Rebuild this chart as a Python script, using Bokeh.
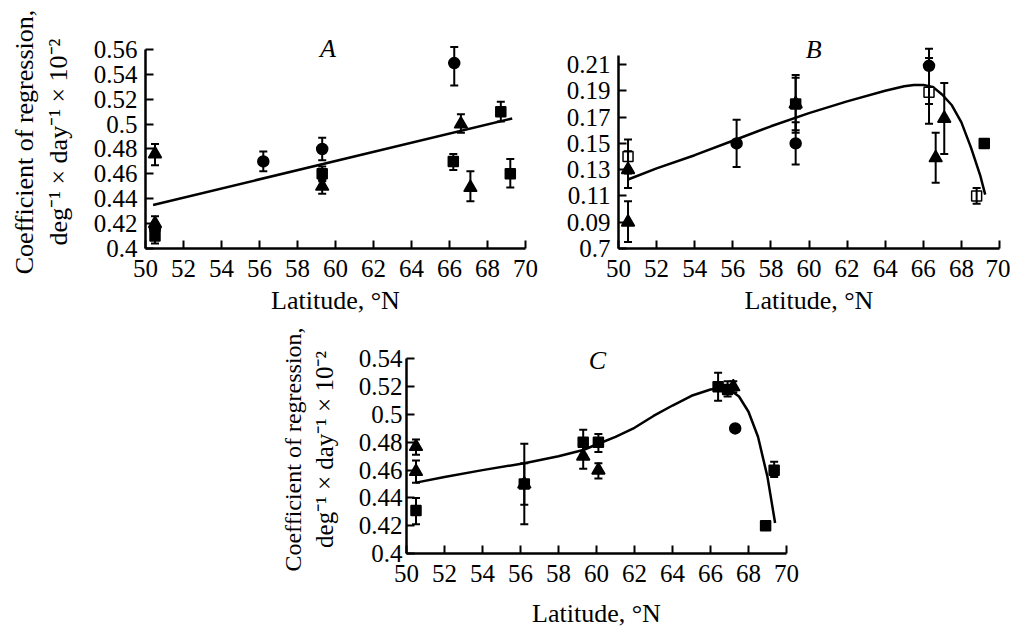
from bokeh.plotting import figure
from bokeh.models import Range1d, LinearAxis, FixedTicker, Whisker, TeeHead, ColumnDataSource, Label
from bokeh.layouts import column, row
from bokeh.embed import file_html
from bokeh.resources import INLINE

FONT = "Liberation Serif"

# ---------------- data ----------------
x_ticks = [50, 52, 54, 56, 58, 60, 62, 64, 66, 68, 70]

# Panel A
A_yticks = [0.40, 0.42, 0.44, 0.46, 0.48, 0.50, 0.52, 0.54, 0.56]
A_ylabels = ["0.4", "0.42", "0.44", "0.46", "0.48", "0.5", "0.52", "0.54", "0.56"]
A_circ_x = [50.5, 56.2, 59.3, 66.25]
A_circ_y = [0.416, 0.47, 0.48, 0.549]
A_circ_lo = [0.411, 0.462, 0.471, 0.531]
A_circ_hi = [0.421, 0.478, 0.489, 0.562]
A_sq_x = [50.5, 59.3, 66.2, 68.7, 69.2]
A_sq_y = [0.41, 0.46, 0.47, 0.51, 0.46]
A_sq_lo = [0.404, 0.454, 0.463, 0.502, 0.449]
A_sq_hi = [0.416, 0.466, 0.476, 0.518, 0.472]
A_tri_x = [50.5, 50.5, 59.3, 66.6, 67.1]
A_tri_y = [0.476, 0.42, 0.45, 0.50, 0.449]
A_tri_lo = [0.467, 0.413, 0.444, 0.493, 0.438]
A_tri_hi = [0.484, 0.426, 0.455, 0.508, 0.462]
A_line_x = [50.4, 69.3]
A_line_y = [0.435, 0.5045]

# Panel B
B_yticks = [0.07, 0.09, 0.11, 0.13, 0.15, 0.17, 0.19, 0.21]
B_ylabels = ["0.7", "0.09", "0.11", "0.13", "0.15", "0.17", "0.19", "0.21"]
B_circ_x = [56.2, 59.3, 66.3]
B_circ_y = [0.15, 0.15, 0.209]
B_circ_lo = [0.132, 0.134, 0.18]
B_circ_hi = [0.168, 0.166, 0.222]
B_sq_x = [59.3, 69.2]
B_sq_y = [0.18, 0.15]
B_sq_lo = [0.158, 0.15]
B_sq_hi = [0.202, 0.15]
B_osq_x = [50.5, 66.3, 68.8]
B_osq_y = [0.14, 0.189, 0.11]
B_osq_lo = [0.127, 0.165, 0.104]
B_osq_hi = [0.153, 0.215, 0.116]
B_tri_x = [50.5, 50.5, 59.3, 66.65, 67.1]
B_tri_y = [0.13, 0.09, 0.18, 0.139, 0.169]
B_tri_lo = [0.116, 0.075, 0.16, 0.12, 0.142]
B_tri_hi = [0.144, 0.106, 0.20, 0.158, 0.196]
B_curve_x = [50.5, 52, 54, 56, 58, 60, 62, 64, 65, 65.5, 66, 66.5, 67, 67.5, 68, 68.5, 69, 69.25]
B_curve_y = [0.1225, 0.131, 0.141, 0.152, 0.163, 0.173, 0.182, 0.19, 0.1935, 0.1945,
             0.1945, 0.193, 0.187, 0.179, 0.166, 0.147, 0.125, 0.111]

# Panel C
C_yticks = [0.40, 0.42, 0.44, 0.46, 0.48, 0.50, 0.52, 0.54]
C_ylabels = ["0.4", "0.42", "0.44", "0.46", "0.48", "0.5", "0.52", "0.54"]
C_sq_x = [50.5, 56.2, 59.3, 60.1, 66.4, 66.9, 68.9, 69.35]
C_sq_y = [0.431, 0.45, 0.48, 0.48, 0.52, 0.518, 0.42, 0.46]
C_sq_lo = [0.421, 0.421, 0.471, 0.473, 0.51, 0.513, 0.417, 0.455]
C_sq_hi = [0.44, 0.479, 0.489, 0.486, 0.53, 0.524, 0.423, 0.466]
C_tri_x = [50.5, 50.5, 56.2, 59.3, 60.1, 67.2]
C_tri_y = [0.477, 0.459, 0.45, 0.47, 0.46, 0.52]
C_tri_lo = [0.471, 0.451, 0.435, 0.461, 0.454, 0.516]
C_tri_hi = [0.482, 0.467, 0.465, 0.478, 0.465, 0.524]
C_circ_x = [67.3]
C_circ_y = [0.49]
C_circ_lo = [0.488]
C_circ_hi = [0.492]
C_curve_x = [50.5, 52, 54, 56.2, 58, 59.3, 60.1, 61, 62, 63, 64, 65, 66, 66.5, 67, 67.5,
             68, 68.5, 69, 69.4]
C_curve_y = [0.451, 0.455, 0.46, 0.465, 0.47, 0.4745, 0.479, 0.484, 0.4905, 0.499, 0.5065,
             0.5135, 0.518, 0.519, 0.518, 0.513, 0.502, 0.484, 0.455, 0.422]

TICK_FS = "25px"
TITLE_FS = "26px"


def make_fig(width, height, ylo, yaxis_top, yrange_top, mbl, mbt, mbr, mbb, yticks, ylabels,
             ystand=8):
    p = figure(width=width, height=height, x_range=Range1d(50, 70),
               y_range=Range1d(ylo, yrange_top),
               output_backend="svg", toolbar_location=None,
               min_border_left=mbl, min_border_top=mbt, min_border_right=mbr, min_border_bottom=mbb)
    p.outline_line_color = None
    p.grid.visible = False
    p.background_fill_color = "white"
    for ax in (p.xaxis[0], p.yaxis[0]):
        ax.axis_line_width = 2.5
        ax.axis_line_color = "black"
        ax.major_tick_line_width = 2
        ax.major_tick_in = 8
        ax.major_tick_out = 0
        ax.minor_tick_line_color = None
        ax.major_label_text_font = FONT
        ax.major_label_text_font_size = TICK_FS
        ax.major_label_text_color = "black"
        ax.axis_label_text_font = FONT
        ax.axis_label_text_font_size = TITLE_FS
        ax.axis_label_text_font_style = "normal"
        ax.axis_label_text_color = "black"
    p.xaxis[0].ticker = FixedTicker(ticks=x_ticks)
    p.xaxis[0].major_label_standoff = 11
    p.xaxis[0].axis_label = "Latitude, °N"
    p.xaxis[0].axis_label_standoff = 6
    p.yaxis[0].ticker = FixedTicker(ticks=yticks)
    p.yaxis[0].bounds = (ylo, yaxis_top)
    p.yaxis[0].major_label_overrides = {t: l for t, l in zip(yticks, ylabels)}
    p.yaxis[0].major_label_standoff = ystand
    return p


def add_ytitle(p, fs1=TITLE_FS, fs2=TITLE_FS):
    p.yaxis[0].axis_label = "deg⁻¹ × day⁻¹ × 10⁻²"
    p.yaxis[0].axis_label_text_font_size = fs2
    p.yaxis[0].axis_label_standoff = 18
    ax2 = LinearAxis(ticker=FixedTicker(ticks=[]), axis_line_color=None,
                     major_tick_line_color=None, minor_tick_line_color=None,
                     axis_label="Coefficient of regression,",
                     axis_label_text_font=FONT, axis_label_text_font_size=fs1,
                     axis_label_text_font_style="normal", axis_label_text_color="black",
                     axis_label_standoff=2)
    p.add_layout(ax2, "left")


def whiskers(p, xs, lo, hi):
    src = ColumnDataSource(dict(x=xs, lo=lo, hi=hi))
    w = Whisker(base="x", lower="lo", upper="hi", source=src, dimension="height",
                line_width=2, line_color="black", level="glyph",
                upper_head=TeeHead(size=8, line_width=2, line_color="black"),
                lower_head=TeeHead(size=8, line_width=2, line_color="black"))
    p.add_layout(w)


def points(p, xs, ys, lo, hi, marker, size, fill="black"):
    whiskers(p, xs, lo, hi)
    p.scatter(xs, ys, marker=marker, size=size, fill_color=fill, line_color="black",
              line_width=1.5)


def letter(p, x, y, t):
    p.add_layout(Label(x=x, y=y, text=t, text_font=FONT, text_font_size="26px",
                       text_font_style="italic", text_align="center", text_baseline="middle",
                       text_color="black"))


# Panel A  (frame top at 35px, axis line up to 0.56)
pA = make_fig(540, 318, 0.40, 0.56, 0.5712, 145, 35, 15, 70, A_yticks, A_ylabels)
add_ytitle(pA)
pA.line(A_line_x, A_line_y, line_width=2.5, line_color="black")
points(pA, A_tri_x, A_tri_y, A_tri_lo, A_tri_hi, "triangle", 13)
points(pA, A_sq_x, A_sq_y, A_sq_lo, A_sq_hi, "square", 10)
points(pA, A_circ_x, A_circ_y, A_circ_lo, A_circ_hi, "circle", 11)
letter(pA, 59.6, 0.5605, "A")

# Panel B  (frame top at 28px, axis line up to 0.2165)
pB = make_fig(470, 318, 0.07, 0.2165, 0.2321, 78, 28, 11, 70, B_yticks, B_ylabels)
pB.line(B_curve_x, B_curve_y, line_width=2.5, line_color="black")
points(pB, B_tri_x, B_tri_y, B_tri_lo, B_tri_hi, "triangle", 13)
points(pB, B_circ_x, B_circ_y, B_circ_lo, B_circ_hi, "circle", 11)
points(pB, B_sq_x, B_sq_y, B_sq_lo, B_sq_hi, "square", 10)
points(pB, B_osq_x, B_osq_y, B_osq_lo, B_osq_hi, "square", 10, fill="white")
letter(pB, 60.24, 0.2214, "B")

# Panel C  (frame top at 27px inside its canvas, axis line up to 0.54)
pC = make_fig(806, 312, 0.40, 0.54, 0.5497, 406, 27, 20, 70, C_yticks, C_ylabels, ystand=4)
pC.xaxis[0].axis_label_standoff = 14
add_ytitle(pC, fs1="24px", fs2="25px")
pC.line(C_curve_x, C_curve_y, line_width=2.5, line_color="black")
points(pC, C_tri_x, C_tri_y, C_tri_lo, C_tri_hi, "triangle", 13)
points(pC, C_sq_x, C_sq_y, C_sq_lo, C_sq_hi, "square", 10)
points(pC, C_circ_x, C_circ_y, C_circ_lo, C_circ_hi, "circle", 11)
letter(pC, 60.05, 0.539, "C")

layout = column(row(pA, pB), pC)
open("out.html", "w").write(file_html(layout, INLINE))
